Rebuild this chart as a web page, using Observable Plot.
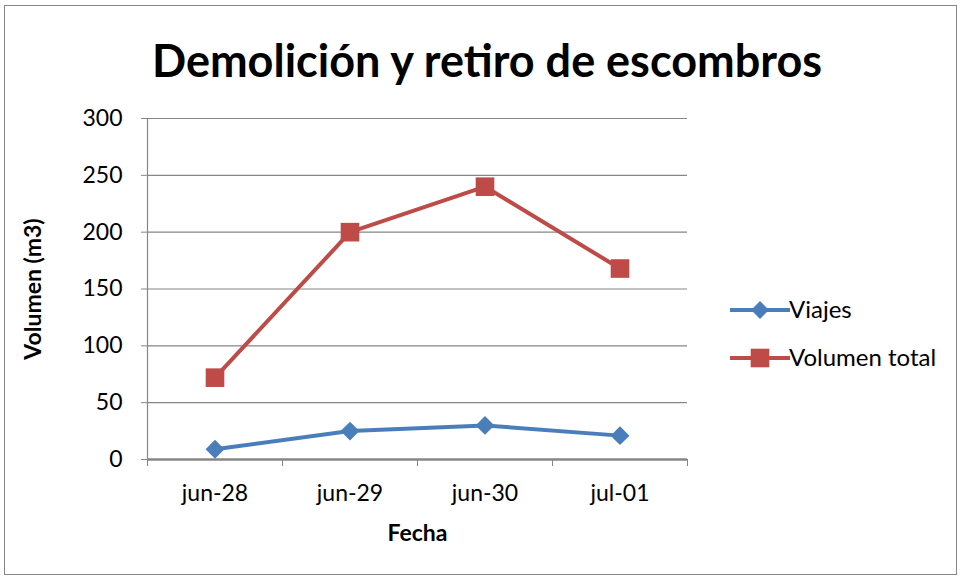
<!DOCTYPE html>
<html><head><meta charset="utf-8">
<script src="https://cdn.jsdelivr.net/npm/d3@7"></script>
<script src="https://cdn.jsdelivr.net/npm/@observablehq/plot@0.6"></script>
<style>
body{margin:0;background:#fff;font-family:Lato,"Open Sans",sans-serif;}
#wrap{position:relative;width:961px;height:579px;overflow:hidden;}
#frame{position:absolute;left:4px;top:5px;width:953px;height:570px;border:1px solid #868686;box-sizing:border-box;}
#title{position:absolute;left:0;width:974px;top:33px;text-align:center;font-weight:700;font-size:45px;color:#000;}
.leg{position:absolute;font-size:24px;color:#000;}
#plot{position:absolute;left:0;top:0;}
</style></head><body>
<div id="wrap">
<div id="frame"></div>
<div id="plot"></div>
<div id="title">Demolición y retiro de escombros</div>
<div id="legend"></div>
</div>
<script>
const fechas = ["jun-28","jun-29","jun-30","jul-01"];
const viajes = [9, 25, 30, 21];
const volumenTotal = [72, 200, 240, 168];
const yTicks = [0, 50, 100, 150, 200, 250, 300];
const series = ["Viajes", "Volumen total"];
const colors = ["#4A7EBB", "#BE4B48"];

const idx = fechas.map((_, i) => i);
const dV = idx.map(i => ({i, v: viajes[i]}));
const dT = idx.map(i => ({i, v: volumenTotal[i]}));
const bounds = [-0.5, 0.5, 1.5, 2.5, 3.5];

const plot = Plot.plot({
  width: 961, height: 579,
  marginLeft: 147, marginRight: 274, marginTop: 118, marginBottom: 120,
  style: {fontFamily: "Lato, 'Open Sans', sans-serif", fontSize: "23px", color: "#000", background: "transparent"},
  x: {type: "linear", domain: [-0.5, 3.5]},
  y: {domain: [0, 300]},
  marks: [
    Plot.ruleY(yTicks.filter(d => d > 0), {stroke: "#868686", strokeWidth: 1.2, strokeOpacity: 1}),
    Plot.ruleX([-0.5], {y1: 0, y2: 300, stroke: "#868686", strokeWidth: 1.2}),
    Plot.axisY({ticks: yTicks, tickSize: 6, tickPadding: 19, stroke: "#868686", label: null, fontSize: 23}),
    Plot.axisX({ticks: bounds, tickSize: 7, tickFormat: () => "", stroke: "#868686", label: null}),
    Plot.axisX({ticks: idx, tickSize: 0, tickPadding: 25, tickFormat: i => fechas[i], label: null, fontSize: 23}),
    Plot.ruleY([0], {stroke: "#868686", strokeWidth: 2.5}),
    Plot.line(dT, {x: "i", y: "v", stroke: colors[1], strokeWidth: 4}),
    Plot.line(dV, {x: "i", y: "v", stroke: colors[0], strokeWidth: 4}),
    Plot.dot(dT, {x: "i", y: "v", symbol: "square", r: 10.5, fill: colors[1], stroke: null}),
    Plot.dot(dV, {x: "i", y: "v", symbol: "diamond2", r: 8.5, fill: colors[0], stroke: null}),
    Plot.text(["Fecha"], {frameAnchor: "bottom", dy: 81, fontWeight: 700, fontSize: 23, dx: 0}),
    Plot.text(["Volumen (m3)"], {frameAnchor: "left", textAnchor: "middle", rotate: -90, dx: -114, fontWeight: 700, fontSize: 23})
  ]
});
document.getElementById("plot").appendChild(plot);

// legend
const leg = document.getElementById("legend");
const ys = [310, 358];
series.forEach((s, k) => {
  const svg = d3.create("svg").attr("width", 70).attr("height", 30)
    .style("position", "absolute").style("left", "726px").style("top", (ys[k] - 15) + "px");
  svg.append("line").attr("x1", 4).attr("x2", 64).attr("y1", 15).attr("y2", 15)
    .attr("stroke", colors[k]).attr("stroke-width", 4);
  const sym = k === 0 ? d3.symbolDiamond2 : d3.symbolSquare;
  const size = Math.PI * (k === 0 ? 8 : 10.5) ** 2;
  svg.append("path").attr("d", d3.symbol(sym, size)()).attr("transform", "translate(34,15)").attr("fill", colors[k]);
  leg.appendChild(svg.node());
  const t = document.createElement("div");
  t.className = "leg"; t.textContent = s;
  t.style.left = "789px"; t.style.top = (ys[k] - 16) + "px";
  leg.appendChild(t);
});
</script>
</body></html>
